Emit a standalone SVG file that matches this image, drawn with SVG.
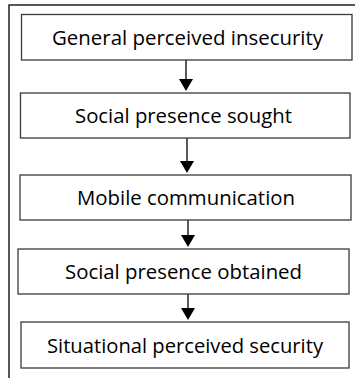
<svg xmlns="http://www.w3.org/2000/svg" width="355" height="378" viewBox="0 0 355 378">
<style>
.box{fill:#fff;stroke:#3a3a3a;stroke-width:1.3}
.lbl{font-family:"Open Sans","Liberation Sans",sans-serif;font-size:20px;fill:#000;text-anchor:middle;dominant-baseline:central}
.con{stroke:#000;stroke-width:1.3;fill:none}
.head{fill:#000}
</style>
<rect width="355" height="378" fill="#fff"/>
<g id="frame">
<path d="M9,378 V5 H355" fill="none" stroke="#222" stroke-width="1.5"/>
</g>
<g id="connectors">
<line class="con" x1="186" y1="60" x2="186" y2="80"/>
<path class="head" d="M179,79 L193,79 L186,91 Z"/>
<line class="con" x1="187" y1="138" x2="187" y2="162"/>
<path class="head" d="M180,161 L194,161 L187,173 Z"/>
<line class="con" x1="188" y1="220" x2="188" y2="236"/>
<path class="head" d="M181,235 L195,235 L188,247 Z"/>
<line class="con" x1="188" y1="294" x2="188" y2="309"/>
<path class="head" d="M181,308 L195,308 L188,320 Z"/>
</g>
<g id="n1">
<rect class="box" x="21.5" y="14.5" width="330.5" height="45.5"/>
<text class="lbl" x="187.5" y="37" textLength="271" lengthAdjust="spacingAndGlyphs">General perceived insecurity</text>
</g>
<g id="n2">
<rect class="box" x="20.5" y="93" width="329.5" height="45"/>
<text class="lbl" x="183.5" y="115" textLength="217" lengthAdjust="spacingAndGlyphs">Social presence sought</text>
</g>
<g id="n3">
<rect class="box" x="20" y="175" width="331" height="45"/>
<text class="lbl" x="186" y="197" textLength="218" lengthAdjust="spacingAndGlyphs">Mobile communication</text>
</g>
<g id="n4">
<rect class="box" x="18" y="249" width="331" height="45"/>
<text class="lbl" x="183.5" y="271" textLength="237" lengthAdjust="spacingAndGlyphs">Social presence obtained</text>
</g>
<g id="n5">
<rect class="box" x="21" y="322" width="328" height="46"/>
<text class="lbl" x="185" y="345" textLength="276" lengthAdjust="spacingAndGlyphs">Situational perceived security</text>
</g>
</svg>
